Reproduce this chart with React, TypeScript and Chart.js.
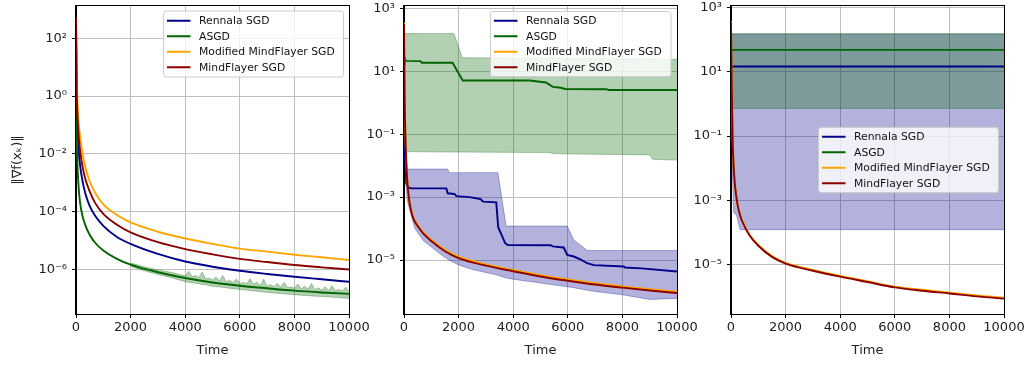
import React, { useEffect, useRef } from "react";
import { Chart, registerables } from "chart.js";

Chart.register(...registerables);
Chart.defaults.font.family = '"DejaVu Sans", sans-serif';

// ---------- shared ----------
const SERIES_LABELS = ["Rennala SGD", "ASGD", "Modified MindFlayer SGD", "MindFlayer SGD"];
const SERIES_COLORS = ["#00008b", "#006400", "#ffa500", "#8b0000"];
const BAND_FILL = { rennala: "rgba(0,0,139,0.3)", asgd: "rgba(0,100,0,0.3)" };

const X_TICKS = [0, 2000, 4000, 6000, 8000, 10000];
const X_TICK_LABELS = ["0", "2000", "4000", "6000", "8000", "10000"];
const X_TITLE = "Time";
const Y_TITLE = "‖∇f(xₖ)‖";

// ---------- panel 1 ----------
const P1_Y_TICKS = [1e2, 1e0, 1e-2, 1e-4, 1e-6];
const P1_Y_TICK_LABELS = ["10²", "10⁰", "10⁻²", "10⁻⁴", "10⁻⁶"];
const P1_TIME = [0, 25, 50, 100, 150, 250, 350, 500, 700, 1000, 1500, 2000, 3000, 4000, 5000, 6000, 7000, 8000, 9000, 10000];
const P1_RENNALA = [500, 0.63, 0.10, 0.0126, 4.0e-3, 1.0e-3, 4.0e-4, 1.58e-4, 7.1e-5, 3.2e-5, 1.32e-5, 7.6e-6, 3.4e-6, 1.86e-6, 1.23e-6, 8.9e-7, 6.9e-7, 5.5e-7, 4.5e-7, 3.7e-7];
const P1_ASGD = [500, 0.050, 5.0e-3, 6.3e-4, 2.0e-4, 6.3e-5, 3.2e-5, 1.58e-5, 8.3e-6, 4.5e-6, 2.3e-6, 1.45e-6, 7.9e-7, 5.0e-7, 3.5e-7, 2.7e-7, 2.2e-7, 1.82e-7, 1.58e-7, 1.41e-7];
const P1_MODIFIED = [500, 4.0, 0.79, 0.112, 0.040, 8.9e-3, 3.2e-3, 1.12e-3, 4.5e-4, 1.78e-4, 7.6e-5, 4.2e-5, 2.0e-5, 1.17e-5, 7.6e-6, 5.2e-6, 4.1e-6, 3.2e-6, 2.6e-6, 2.1e-6];
const P1_MINDFLAYER = [500, 1.58, 0.25, 0.040, 0.0126, 3.2e-3, 1.26e-3, 5.0e-4, 2.0e-4, 8.3e-5, 3.5e-5, 1.9e-5, 8.7e-6, 5.0e-6, 3.3e-6, 2.3e-6, 1.78e-6, 1.41e-6, 1.17e-6, 9.8e-7];
const P1_ASGD_BAND_TIME = [
  2000, 2500, 3000, 3500,
  4000, 4125, 4250, 4375, 4500, 4625, 4750, 4875, 5000, 5125, 5250, 5375, 5500, 5625, 5750, 5875,
  6000, 6125, 6250, 6375, 6500, 6625, 6750, 6875, 7000, 7125, 7250, 7375, 7500, 7625, 7750, 7875,
  8000, 8125, 8250, 8375, 8500, 8625, 8750, 8875, 9000, 9125, 9250, 9375, 9500, 9625, 9750, 9875, 10000,
];
const P1_ASGD_UPPER = [
  1.66e-6, 1.23e-6, 9.5e-7, 7.8e-7,
  6.0e-7, 8.5e-7, 5.5e-7, 6.1e-7, 5.1e-7, 8.1e-7, 4.7e-7, 4.9e-7, 4.3e-7, 5.4e-7, 4.0e-7, 6.1e-7, 3.7e-7, 4.2e-7, 3.5e-7, 4.6e-7,
  3.2e-7, 3.5e-7, 3.1e-7, 4.7e-7, 3.0e-7, 3.6e-7, 2.75e-7, 4.5e-7, 2.6e-7, 3.0e-7, 2.5e-7, 3.3e-7, 2.4e-7, 3.5e-7, 2.3e-7, 2.45e-7,
  2.2e-7, 3.1e-7, 2.1e-7, 2.6e-7, 2.05e-7, 3.2e-7, 1.97e-7, 2.3e-7, 1.9e-7, 2.5e-7, 1.86e-7, 2.7e-7, 1.8e-7, 2.0e-7, 1.74e-7, 2.4e-7, 1.7e-7,
];
const P1_ASGD_LOWER = [
  1.26e-6, 8.9e-7, 6.6e-7, 5.1e-7,
  3.7e-7, 3.55e-7, 3.4e-7, 3.3e-7, 3.16e-7, 3.0e-7, 2.9e-7, 2.75e-7, 2.6e-7, 2.55e-7, 2.45e-7, 2.37e-7, 2.3e-7, 2.2e-7, 2.14e-7, 2.07e-7,
  2.0e-7, 1.95e-7, 1.9e-7, 1.84e-7, 1.78e-7, 1.74e-7, 1.68e-7, 1.62e-7, 1.58e-7, 1.55e-7, 1.51e-7, 1.48e-7, 1.45e-7, 1.41e-7, 1.38e-7, 1.35e-7,
  1.32e-7, 1.29e-7, 1.26e-7, 1.24e-7, 1.23e-7, 1.2e-7, 1.17e-7, 1.16e-7, 1.15e-7, 1.12e-7, 1.11e-7, 1.08e-7, 1.07e-7, 1.05e-7, 1.02e-7, 1.0e-7, 9.8e-8,
];

// ---------- panel 2 ----------
const P2_Y_TICKS = [1e3, 1e1, 1e-1, 1e-3, 1e-5];
const P2_Y_TICK_LABELS = ["10³", "10¹", "10⁻¹", "10⁻³", "10⁻⁵"];
const P2_TIME = [0, 25, 60, 100, 170, 250, 350, 500, 700, 1000, 1500, 2000, 3000, 4000, 5000, 6000, 7000, 8000, 9000, 10000];
const P2_MINDFLAYER = [320, 1.26, 0.050, 6.3e-3, 1.1e-3, 4.0e-4, 2.0e-4, 1.2e-4, 7.0e-5, 4.0e-5, 1.9e-5, 1.15e-5, 6.6e-6, 4.4e-6, 3.0e-6, 2.2e-6, 1.66e-6, 1.32e-6, 1.07e-6, 8.9e-7];
const P2_MODIFIED = [350, 1.4, 0.055, 6.9e-3, 1.2e-3, 4.4e-4, 2.2e-4, 1.32e-4, 7.7e-5, 4.4e-5, 2.1e-5, 1.27e-5, 7.3e-6, 4.8e-6, 3.3e-6, 2.4e-6, 1.83e-6, 1.45e-6, 1.18e-6, 9.8e-7];
const P2_RENNALA_TIME = [0, 40, 85, 170, 250, 1550, 1600, 1850, 1920, 2400, 2800, 2900, 3380, 3450, 3550, 3700, 3800, 5370, 5450, 5850, 5980, 6220, 6460, 6710, 6950, 8050, 8100, 8700, 10000];
const P2_RENNALA = [0.3, 0.025, 2.75e-3, 2.04e-3, 1.9e-3, 1.9e-3, 1.32e-3, 1.26e-3, 1.07e-3, 1.0e-3, 8.7e-4, 7.2e-4, 6.8e-4, 1.1e-4, 7.0e-5, 3.5e-5, 3.0e-5, 2.95e-5, 2.7e-5, 2.5e-5, 1.45e-5, 1.29e-5, 1.05e-5, 7.9e-6, 6.9e-6, 6.2e-6, 5.75e-6, 5.4e-6, 4.3e-6];
const P2_RENNALA_BAND_TIME = [0, 60, 120, 200, 400, 700, 1000, 1300, 1600, 1650, 2000, 2500, 3000, 3440, 3740, 4000, 5000, 5980, 6220, 6460, 6710, 7000, 8000, 9000, 10000];
const P2_RENNALA_UPPER = [0.3, 0.02, 7.8e-3, 7.8e-3, 7.8e-3, 7.8e-3, 7.8e-3, 7.8e-3, 7.8e-3, 6.0e-3, 6.0e-3, 6.0e-3, 6.0e-3, 6.0e-3, 1.2e-4, 1.2e-4, 1.2e-4, 1.2e-4, 4.3e-5, 3.0e-5, 2.0e-5, 2.0e-5, 2.0e-5, 2.0e-5, 2.0e-5];
const P2_RENNALA_LOWER = [0.2, 3.0e-3, 8.0e-4, 4.0e-4, 1.0e-4, 4.2e-5, 2.6e-5, 1.6e-5, 1.05e-5, 1.0e-5, 7.0e-6, 5.0e-6, 4.0e-6, 3.3e-6, 2.7e-6, 2.45e-6, 1.85e-6, 1.41e-6, 1.32e-6, 1.2e-6, 1.1e-6, 1.0e-6, 7.8e-7, 5.6e-7, 6.0e-7];
const P2_ASGD_TIME = [0, 30, 100, 600, 650, 1780, 2150, 4600, 5200, 5450, 5750, 5900, 7400, 7500, 10000];
const P2_ASGD = [28, 23, 21.5, 21, 18.7, 18.7, 5.1, 5.1, 4.4, 3.2, 3.0, 2.75, 2.7, 2.55, 2.55];
const P2_ASGD_BAND_TIME = [0, 1830, 2130, 5300, 5500, 9000, 9100, 10000];
const P2_ASGD_UPPER = [158, 158, 27, 26, 26, 24.5, 24.5, 24];
const P2_ASGD_LOWER = [0.028, 0.027, 0.027, 0.026, 0.024, 0.022, 0.016, 0.015];

// ---------- panel 3 ----------
const P3_Y_TICKS = [1e3, 1e1, 1e-1, 1e-3, 1e-5];
const P3_Y_TICK_LABELS = ["10³", "10¹", "10⁻¹", "10⁻³", "10⁻⁵"];
const P3_TIME = [0, 25, 60, 120, 180, 250, 350, 500, 700, 1000, 1500, 2000, 3000, 4000, 5000, 6000, 7000, 8000, 9000, 10000];
const P3_MINDFLAYER = [370, 4.5, 0.076, 5.4e-3, 1.6e-3, 6.5e-4, 3.0e-4, 1.5e-4, 7.5e-5, 3.8e-5, 1.7e-5, 1.05e-5, 6.3e-6, 4.1e-6, 2.8e-6, 1.9e-6, 1.5e-6, 1.23e-6, 1.0e-6, 8.5e-7];
const P3_MODIFIED = [390, 4.8, 0.08, 5.7e-3, 1.7e-3, 6.9e-4, 3.2e-4, 1.6e-4, 7.9e-5, 4.0e-5, 1.8e-5, 1.11e-5, 6.7e-6, 4.35e-6, 2.95e-6, 2.0e-6, 1.6e-6, 1.3e-6, 1.06e-6, 9.0e-7];
const P3_FLAT_TIME = [0, 60, 10000];
const P3_RENNALA = [14.8, 14.8, 14.8];
const P3_ASGD = [44, 49, 49];
const P3_ASGD_BAND_TIME = [0, 10000];
const P3_ASGD_UPPER = [158, 158];
const P3_ASGD_LOWER = [0.73, 0.73];
const P3_RENNALA_BAND_TIME = [0, 60, 100, 200, 330, 10000];
const P3_RENNALA_UPPER = [150, 150, 150, 150, 150, 150];
const P3_RENNALA_LOWER = [0.1, 4e-3, 4e-4, 3.5e-4, 1.2e-4, 1.2e-4];

// ---------- helpers ----------
const W = 1028;
const H = 365;
const pts = (xs: number[], ys: number[]) => xs.map((x, i) => ({ x, y: ys[i] }));

function line(idx: number, xs: number[], ys: number[], order: number, smooth = true) {
  return {
    label: SERIES_LABELS[idx],
    data: pts(xs, ys),
    borderColor: SERIES_COLORS[idx],
    backgroundColor: SERIES_COLORS[idx],
    borderWidth: 1.9,
    pointRadius: 0,
    fill: false,
    tension: 0,
    cubicInterpolationMode: smooth ? "monotone" : "default",
    order,
  };
}

function band(xs: number[], up: number[], lo: number[], color: string, order: number) {
  return [
    { label: "_band_up", data: pts(xs, up), borderColor: color, borderWidth: 1, pointRadius: 0, backgroundColor: color, fill: "+1", tension: 0, order },
    { label: "_band_lo", data: pts(xs, lo), borderColor: color, borderWidth: 1, pointRadius: 0, fill: false, tension: 0, order },
  ];
}

type Box = { x: number; y: number; w: number; h: number };

function decorPlugin(box: Box) {
  return {
    id: "decor",
    afterDatasetsDraw(chart: any) {
      const { ctx, chartArea: a } = chart;
      ctx.save();
      ctx.strokeStyle = "#000";
      ctx.lineWidth = 1;
      ctx.strokeRect(Math.round(a.left) - 0.5, Math.round(a.top) - 0.5, Math.round(a.right - a.left) + 1, Math.round(a.bottom - a.top) + 1);
      ctx.restore();
    },
    afterDraw(chart: any) {
      const { ctx } = chart;
      ctx.save();
      const r = 2.5;
      const { x, y, w, h } = box;
      ctx.beginPath();
      ctx.moveTo(x + r, y);
      ctx.lineTo(x + w - r, y);
      ctx.arcTo(x + w, y, x + w, y + r, r);
      ctx.lineTo(x + w, y + h - r);
      ctx.arcTo(x + w, y + h, x + w - r, y + h, r);
      ctx.lineTo(x + r, y + h);
      ctx.arcTo(x, y + h, x, y + h - r, r);
      ctx.lineTo(x, y + r);
      ctx.arcTo(x, y, x + r, y, r);
      ctx.closePath();
      ctx.fillStyle = "rgba(255,255,255,0.8)";
      ctx.fill();
      ctx.strokeStyle = "#cccccc";
      ctx.lineWidth = 1;
      ctx.stroke();
      ctx.font = '10.8px "DejaVu Sans"';
      ctx.textBaseline = "middle";
      ctx.textAlign = "left";
      const step = 15.5;
      const first = y + h / 2 - 1.5 * step;
      SERIES_LABELS.forEach((lab, i) => {
        const yy = first + i * step;
        ctx.strokeStyle = SERIES_COLORS[i];
        ctx.lineWidth = 2;
        ctx.beginPath();
        ctx.moveTo(x + 3.5, yy);
        ctx.lineTo(x + 27, yy);
        ctx.stroke();
        ctx.fillStyle = "#111";
        ctx.fillText(lab, x + 35.5, yy + 0.5);
      });
      ctx.restore();
    },
  };
}

type PanelSpec = {
  datasets: any[];
  left: number;
  right: number;
  yAxisW: number;
  yMin: number;
  yMax: number;
  yTicks: number[];
  yTickLabels: string[];
  yTitle?: string;
  legend: Box;
};

function makeConfig(p: PanelSpec) {
  const top = 6;
  const bottom = 314;
  return {
    type: "line",
    data: { datasets: p.datasets },
    options: {
      animation: false,
      responsive: false,
      devicePixelRatio: 1,
      events: [],
      layout: { autoPadding: false, padding: { left: p.left - p.yAxisW, right: W - p.right, top, bottom: 0 } },
      plugins: { legend: { display: false }, tooltip: { enabled: false } },
      scales: {
        x: {
          type: "linear",
          min: 0,
          max: 10000,
          afterBuildTicks: (s: any) => { s.ticks = X_TICKS.map((v) => ({ value: v })); },
          afterFit: (s: any) => { s.height = H - bottom; s.paddingLeft = 0; s.paddingRight = 0; },
          ticks: {
            autoSkip: false,
            maxRotation: 0,
            padding: 2,
            color: "#222",
            font: { size: 13 },
            callback: (_v: any, i: number) => X_TICK_LABELS[i],
          },
          grid: { color: "#b0b0b0", lineWidth: 0.8, tickLength: 4, tickColor: "#000", tickWidth: 1 },
          border: { display: true, color: "#000", width: 1 },
          title: { display: true, text: X_TITLE, color: "#222", font: { size: 13 }, padding: { top: 0, bottom: 7 } },
        },
        y: {
          type: "logarithmic",
          min: p.yMin,
          max: p.yMax,
          afterBuildTicks: (s: any) => { s.ticks = p.yTicks.map((v) => ({ value: v })); },
          afterFit: (s: any) => { s.width = p.yAxisW; s.paddingTop = 0; s.paddingBottom = 0; },
          ticks: {
            padding: 5,
            color: "#222",
            font: { size: 13 },
            callback: (_v: any, i: number) => p.yTickLabels[i],
          },
          grid: { color: "#b0b0b0", lineWidth: 0.8, tickLength: 4, tickColor: "#000", tickWidth: 1 },
          border: { display: true, color: "#000", width: 1 },
          title: p.yTitle
            ? { display: true, text: p.yTitle, color: "#222", font: { size: 13 }, padding: { top: 10, bottom: 0 } }
            : { display: false },
        },
      },
    },
    plugins: [decorPlugin(p.legend)],
  };
}

const PANELS: PanelSpec[] = [
  {
    datasets: [
      line(3, P1_TIME, P1_MINDFLAYER, 1),
      line(2, P1_TIME, P1_MODIFIED, 2),
      line(1, P1_TIME, P1_ASGD, 3),
      line(0, P1_TIME, P1_RENNALA, 4),
      ...band(P1_ASGD_BAND_TIME, P1_ASGD_UPPER, P1_ASGD_LOWER, BAND_FILL.asgd, 10),
    ],
    left: 76,
    right: 349,
    yAxisW: 76,
    yMin: 2.83e-8,
    yMax: 1315,
    yTicks: P1_Y_TICKS,
    yTickLabels: P1_Y_TICK_LABELS,
    yTitle: Y_TITLE,
    legend: { x: 163.5, y: 11, w: 180, h: 66 },
  },
  {
    datasets: [
      line(3, P2_TIME, P2_MINDFLAYER, 1),
      line(2, P2_TIME, P2_MODIFIED, 2),
      line(1, P2_ASGD_TIME, P2_ASGD, 3, false),
      line(0, P2_RENNALA_TIME, P2_RENNALA, 4, false),
      ...band(P2_ASGD_BAND_TIME, P2_ASGD_UPPER, P2_ASGD_LOWER, BAND_FILL.asgd, 10),
      ...band(P2_RENNALA_BAND_TIME, P2_RENNALA_UPPER, P2_RENNALA_LOWER, BAND_FILL.rennala, 11),
    ],
    left: 404,
    right: 677,
    yAxisW: 50,
    yMin: 1.92e-7,
    yMax: 1191,
    yTicks: P2_Y_TICKS,
    yTickLabels: P2_Y_TICK_LABELS,
    legend: { x: 490.5, y: 11.5, w: 180.5, h: 65 },
  },
  {
    datasets: [
      line(3, P3_TIME, P3_MINDFLAYER, 1),
      line(2, P3_TIME, P3_MODIFIED, 2),
      line(1, P3_FLAT_TIME, P3_ASGD, 3, false),
      line(0, P3_FLAT_TIME, P3_RENNALA, 4, false),
      ...band(P3_ASGD_BAND_TIME, P3_ASGD_UPPER, P3_ASGD_LOWER, BAND_FILL.asgd, 10),
      ...band(P3_RENNALA_BAND_TIME, P3_RENNALA_UPPER, P3_RENNALA_LOWER, BAND_FILL.rennala, 11),
    ],
    left: 731,
    right: 1004,
    yAxisW: 50,
    yMin: 2.81e-7,
    yMax: 1146,
    yTicks: P3_Y_TICKS,
    yTickLabels: P3_Y_TICK_LABELS,
    legend: { x: 818.5, y: 127.5, w: 180, h: 65 },
  },
];

function Panel({ spec }: { spec: PanelSpec }) {
  const ref = useRef<HTMLCanvasElement>(null);
  useEffect(() => {
    const chart = new Chart(ref.current as HTMLCanvasElement, makeConfig(spec) as any);
    return () => chart.destroy();
  }, [spec]);
  return (
    <canvas
      ref={ref}
      width={W}
      height={H}
      style={{ position: "absolute", left: 0, top: 0, width: W, height: H }}
    />
  );
}

export default function App() {
  return (
    <div style={{ position: "fixed", left: 0, top: 0, width: W, height: H, background: "#fff", overflow: "hidden" }}>
      {PANELS.map((p, i) => (
        <Panel key={i} spec={p} />
      ))}
    </div>
  );
}
